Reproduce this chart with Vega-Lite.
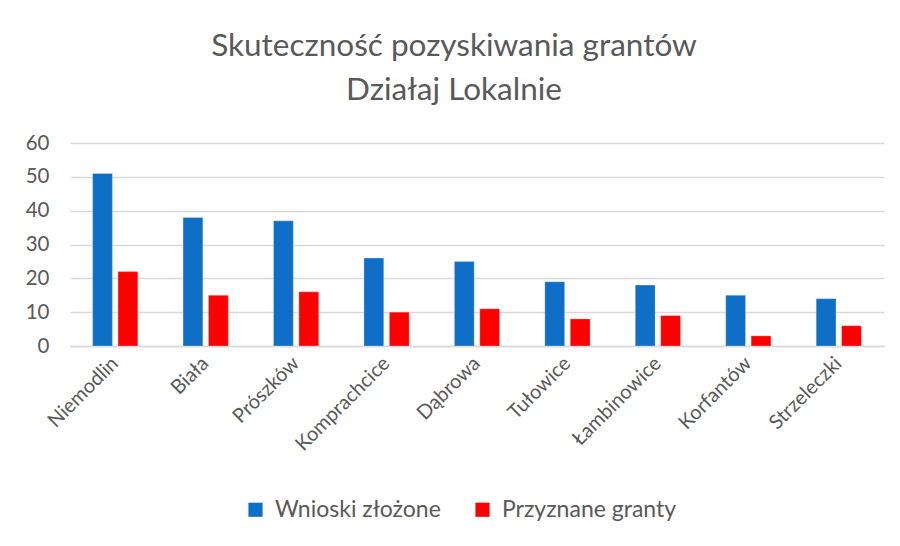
{
  "$schema": "https://vega.github.io/schema/vega-lite/v6.json",
  "autosize": "none",
  "width": 814,
  "height": 203,
  "padding": {"left": 70, "top": 143, "right": 16, "bottom": 200},
  "background": "white",
  "title": {
    "text": ["Skuteczność pozyskiwania grantów", "Działaj Lokalnie"],
    "font": "Lato",
    "fontSize": 31.5,
    "fontWeight": "normal",
    "color": "#595959",
    "lineHeight": 44,
    "anchor": "middle",
    "frame": "group",
    "dx": -23,
    "offset": 27
  },
  "data": {
    "values": [
      {"gmina": "Niemodlin", "seria": "Wnioski złożone", "wartosc": 51},
      {"gmina": "Niemodlin", "seria": "Przyznane granty", "wartosc": 22},
      {"gmina": "Biała", "seria": "Wnioski złożone", "wartosc": 38},
      {"gmina": "Biała", "seria": "Przyznane granty", "wartosc": 15},
      {"gmina": "Prószków", "seria": "Wnioski złożone", "wartosc": 37},
      {"gmina": "Prószków", "seria": "Przyznane granty", "wartosc": 16},
      {"gmina": "Komprachcice", "seria": "Wnioski złożone", "wartosc": 26},
      {"gmina": "Komprachcice", "seria": "Przyznane granty", "wartosc": 10},
      {"gmina": "Dąbrowa", "seria": "Wnioski złożone", "wartosc": 25},
      {"gmina": "Dąbrowa", "seria": "Przyznane granty", "wartosc": 11},
      {"gmina": "Tułowice", "seria": "Wnioski złożone", "wartosc": 19},
      {"gmina": "Tułowice", "seria": "Przyznane granty", "wartosc": 8},
      {"gmina": "Łambinowice", "seria": "Wnioski złożone", "wartosc": 18},
      {"gmina": "Łambinowice", "seria": "Przyznane granty", "wartosc": 9},
      {"gmina": "Korfantów", "seria": "Wnioski złożone", "wartosc": 15},
      {"gmina": "Korfantów", "seria": "Przyznane granty", "wartosc": 3},
      {"gmina": "Strzeleczki", "seria": "Wnioski złożone", "wartosc": 14},
      {"gmina": "Strzeleczki", "seria": "Przyznane granty", "wartosc": 6}
    ]
  },
  "mark": {"type": "bar", "stroke": "white", "strokeOpacity": 0.35, "strokeWidth": 0.8},
  "encoding": {
    "x": {
      "field": "gmina",
      "type": "nominal",
      "sort": null,
      "scale": {"paddingInner": 0.5, "paddingOuter": 0.25},
      "axis": {
        "title": null,
        "labelAngle": -45,
        "labelAlign": "right",
        "labelBaseline": "middle",
        "labelFont": "Lato",
        "labelFontSize": 20,
        "labelColor": "#595959",
        "labelPadding": 14,
        "ticks": false,
        "domainColor": "#D9D9D9",
        "domainWidth": 1.5,
        "grid": false
      }
    },
    "xOffset": {
      "field": "seria",
      "type": "nominal",
      "sort": ["Wnioski złożone", "Przyznane granty"],
      "scale": {"paddingInner": 0.22}
    },
    "y": {
      "field": "wartosc",
      "type": "quantitative",
      "scale": {"domain": [0, 60], "nice": false},
      "axis": {
        "title": null,
        "values": [0, 10, 20, 30, 40, 50, 60],
        "labelFont": "Lato",
        "labelFontSize": 20.5,
        "labelColor": "#595959",
        "labelPadding": 21,
        "ticks": false,
        "domain": false,
        "gridColor": "#D9D9D9",
        "gridWidth": 1.5
      }
    },
    "color": {
      "field": "seria",
      "type": "nominal",
      "scale": {"domain": ["Wnioski złożone", "Przyznane granty"], "range": ["#0F6FC6", "#FF0000"]},
      "legend": {
        "title": null,
        "orient": "none",
        "direction": "horizontal",
        "legendX": 174,
        "legendY": 355,
        "symbolType": "square",
        "symbolSize": 200,
        "symbolStrokeWidth": 0,
        "labelFont": "Lato",
        "labelFontSize": 23,
        "labelLimit": 400,
        "labelColor": "#595959",
        "labelOffset": 8,
        "columnPadding": 30
      }
    }
  },
  "config": {
    "view": {"stroke": null}
  }
}
